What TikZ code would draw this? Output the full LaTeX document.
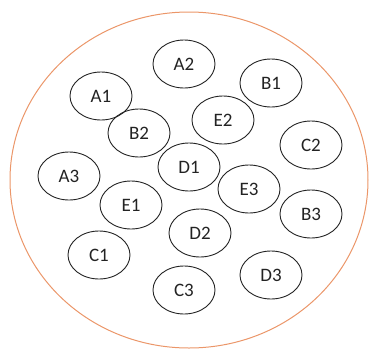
\documentclass[tikz,border=0pt]{standalone}
\usepackage{fontspec}
\setmainfont{Carlito}
\usetikzlibrary{shapes.geometric}
\definecolor{outer}{RGB}{235,150,105}
\definecolor{ink}{RGB}{35,35,35}
\begin{document}
\begin{tikzpicture}[x=1pt,y=-1pt,
  cell/.style={draw=ink,line width=0.9pt,ellipse,minimum width=62pt,minimum height=48pt,inner sep=0pt,font=\fontsize{19}{21}\selectfont,text=ink}]
\useasboundingbox (0,0) rectangle (370,349);
\draw[outer,line width=1pt] (189,180) ellipse [x radius=179, y radius=168];
\node[cell] (A2) at (184,64) {A2};
\node[cell] (A1) at (101,96) {A1};
\node[cell] (B1) at (271,83) {B1};
\node[cell] (B2) at (139,133) {B2};
\node[cell] (E2) at (223,120) {E2};
\node[cell] (C2) at (311,145) {C2};
\node[cell] (A3) at (69,176) {A3};
\node[cell] (D1) at (189,167) {D1};
\node[cell] (E3) at (249,189) {E3};
\node[cell] (E1) at (131,205) {E1};
\node[cell] (B3) at (311,214) {B3};
\node[cell] (D2) at (200,233) {D2};
\node[cell] (C1) at (99,255) {C1};
\node[cell] (D3) at (271,275) {D3};
\node[cell] (C3) at (184,290) {C3};
\end{tikzpicture}
\end{document}
